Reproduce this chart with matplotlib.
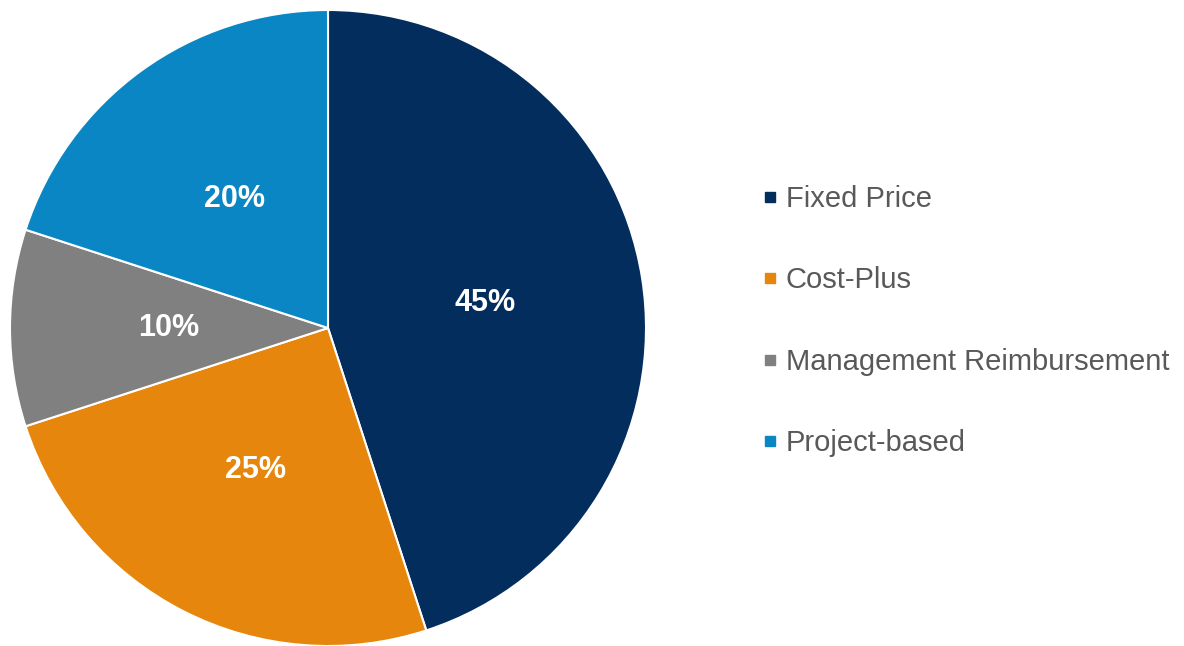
import matplotlib.pyplot as plt
from matplotlib.lines import Line2D

# Contract type shares (percent)
categories = ['Fixed Price', 'Cost-Plus', 'Management Reimbursement', 'Project-based']
shares = [45, 25, 10, 20]
colors = ['#032d5d', '#e6860c', '#808080', '#0a86c4']

plt.rcParams['font.family'] = ['Liberation Sans', 'DejaVu Sans']

fig = plt.figure(figsize=(11.84, 6.46), dpi=100)
fig.patch.set_facecolor('white')

# pie axes: circle about 636 px across, centred near (328, 328)
ax = fig.add_axes([10 / 1184, 0 / 646, 636 / 1184, 636 / 646])
wedges, texts, autotexts = ax.pie(shares,
                                  colors=colors,
                                  startangle=90,
                                  counterclock=False,
                                  autopct='%d%%',
                                  pctdistance=0.5,
                                  wedgeprops={'edgecolor': 'white', 'linewidth': 1.5})
plt.setp(autotexts, size=22, weight='bold', color='white')
ax.set_aspect('equal')
ax.set_xlim(-1, 1)
ax.set_ylim(-1, 1)

handles = [Line2D([], [], linestyle='none', marker='s', markersize=7,
                  markerfacecolor=c, markeredgecolor=c) for c in colors]
legend = fig.legend(handles, categories,
                    loc='center left',
                    bbox_to_anchor=(736 / 1184, 0.503),
                    frameon=False,
                    fontsize=21,
                    handlelength=0.5,
                    handletextpad=0.3,
                    labelspacing=1.83)
for text in legend.get_texts():
    text.set_color('#595959')

fig.savefig('out.png', dpi=100, facecolor='white')
